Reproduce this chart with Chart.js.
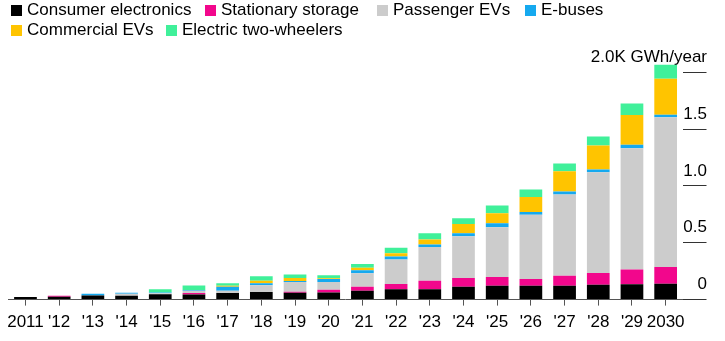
<!DOCTYPE html>
<html>
<head>
<meta charset="utf-8">
<script src="https://cdn.jsdelivr.net/npm/chart.js@4.4.1/dist/chart.umd.min.js"></script>
<style>
  html, body { margin: 0; padding: 0; background: #fff; }
  #wrap { position: relative; width: 725px; height: 341px; }
  #legend { position: absolute; left: 0; top: 0; width: 725px; height: 44px;
            font: 17px "Liberation Sans", Arial, sans-serif; color: #000; }
  .item { position: absolute; white-space: nowrap; line-height: 20px; }
  .box { position: absolute; left: 0; top: 5px; width: 11px; height: 10.5px; }
  .lbl { position: absolute; left: 16px; top: 0; }
</style>
</head>
<body>
<div id="wrap">
  <canvas id="grafiks" width="725" height="341"></canvas>
  <div id="legend"></div>
</div>
<script>
// Gadi uz X ass
const gadi = ["2011", "'12", "'13", "'14", "'15", "'16", "'17", "'18", "'19", "'20",
              "'21", "'22", "'23", "'24", "'25", "'26", "'27", "'28", "'29", "2030"];

// Pieprasījums pa segmentiem, GWh gadā
const patersElektronika = [22, 25, 37, 33, 48, 44, 57, 66, 60, 63, 77, 92, 92, 112, 121, 121, 121, 131, 135, 139];
const stacionaraKratuve = [0, 8, 0, 0, 0, 13, 0, 0, 9, 23, 35, 46, 73, 79, 79, 61, 88, 103, 131, 149];
const pasazieruEV = [0, 0, 0, 18, 8, 20, 20, 61, 86, 68, 120, 216, 298, 366, 436, 565, 717, 886, 1067, 1316];
const eAutobusi = [0, 0, 15, 9, 6, 8, 35, 18, 9, 27, 26, 26, 23, 26, 35, 23, 26, 26, 29, 23];
const komercialieEV = [0, 0, 0, 0, 0, 0, 9, 20, 26, 6, 23, 29, 44, 82, 90, 132, 178, 210, 263, 316];
const divriteni = [0, 0, 0, 0, 30, 39, 24, 41, 32, 28, 32, 47, 53, 50, 68, 67, 67, 79, 102, 123];

// Y ass iedaļas un to teksti
const yIedalas = [0, 500, 1000, 1500, 2000];
const yTeksti = ["0", "0.5", "1.0", "1.5", "2.0K GWh/year"];

// Sēriju nosaukumi un krāsas
const serijas = [
    { nosaukums: "Consumer electronics", dati: patersElektronika, krasa: "#000000" },
    { nosaukums: "Stationary storage", dati: stacionaraKratuve, krasa: "#f2078c" },
    { nosaukums: "Passenger EVs", dati: pasazieruEV, krasa: "#cccccc" },
    { nosaukums: "E-buses", dati: eAutobusi, krasa: "#15a9ef" },
    { nosaukums: "Commercial EVs", dati: komercialieEV, krasa: "#ffc400" },
    { nosaukums: "Electric two-wheelers", dati: divriteni, krasa: "#40f09a" }
];

// Leģendas vietas (kreisā mala, augša)
const legendasVietas = [[11, 0], [205, 0], [377, 0], [525, 0], [11, 20], [166, 20]];

const legenda = document.getElementById("legend");
serijas.forEach((s, i) => {
    const el = document.createElement("div");
    el.className = "item";
    el.style.left = legendasVietas[i][0] + "px";
    el.style.top = legendasVietas[i][1] + "px";
    el.innerHTML = '<span class="box" style="background:' + s.krasa + '"></span><span class="lbl">' + s.nosaukums + '</span>';
    legenda.appendChild(el);
});

const fonts = { family: '"Liberation Sans", Arial, sans-serif', size: 17 };

new Chart(document.getElementById("grafiks"), {
    type: "bar",
    data: {
        labels: gadi,
        datasets: serijas.map(s => ({
            label: s.nosaukums,
            data: s.dati,
            backgroundColor: s.krasa,
            borderWidth: 0,
            barPercentage: 0.674,
            categoryPercentage: 1
        }))
    },
    options: {
        responsive: false,
        animation: false,
        layout: { padding: { left: 8, right: 18.5, top: 61, bottom: 1 } },
        plugins: { legend: { display: false }, tooltip: { enabled: false } },
        scales: {
            x: {
                stacked: true,
                border: { display: true, color: "#555", width: 1 },
                grid: { display: true, drawOnChartArea: false, drawTicks: true, tickLength: 6, color: "#555", offset: false },
                ticks: { color: "#000", font: fonts, autoSkip: false, maxRotation: 0, padding: 7 }
            },
            y: {
                stacked: true,
                position: "right",
                min: 0,
                max: 2100,
                afterBuildTicks: (ass) => { ass.ticks = yIedalas.map(v => ({ value: v })); },
                afterFit: (ass) => { ass.width = 24; },
                border: { display: false },
                grid: { display: true, drawOnChartArea: false, drawTicks: true, tickLength: 24, color: "#333" },
                ticks: {
                    color: "#000",
                    font: fonts,
                    mirror: true,
                    crossAlign: "near",
                    padding: 24.5,
                    labelOffset: -15,
                    callback: (v, i) => yTeksti[i]
                }
            }
        }
    }
});
</script>
</body>
</html>
